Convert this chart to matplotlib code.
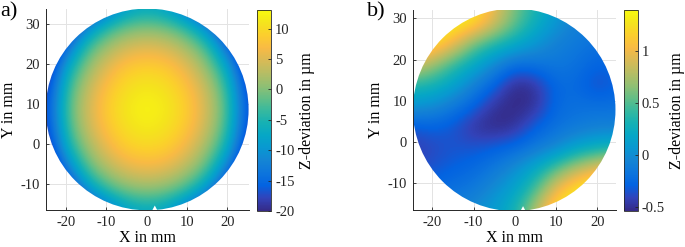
import numpy as np
import matplotlib
matplotlib.use("Agg")
import matplotlib.pyplot as plt
from matplotlib.colors import LinearSegmentedColormap
from matplotlib.patches import Circle, Polygon
from matplotlib.ticker import FormatStrFormatter

plt.rcParams['font.family'] = ['Liberation Serif', 'DejaVu Serif']
plt.rcParams['axes.unicode_minus'] = False

# grid nodes (mm) the surface values were read at
x_nodes = [-25, -20, -15, -10, -5, 0, 5, 10, 15, 20, 25]
y_nodes = [-16.5, -11.5, -6.5, -1.5, 3.5, 8.5, 13.5, 18.5, 23.5, 28.5, 33.5]

# a) Z-deviation in um, rows follow y_nodes (bottom -> top)
z_a = [
    [-39.3, -30.5, -21.8, -14.4, -8.7, -7.2, -8.7, -14.4, -21.8, -30.5, -39.3],
    [-32.7, -22.1, -10.1, -3.5, -0.4, 0.6, -0.4, -3.5, -10.1, -22.1, -32.7],
    [-26.5, -13.7, -2.7, 2.0, 5.0, 5.9, 5.0, 2.0, -2.7, -13.7, -26.5],
    [-22.5, -7.0, 0.8, 5.8, 8.8, 9.5, 8.8, 5.8, 0.8, -7.0, -22.0],
    [-20.0, -3.9, 3.4, 8.0, 10.6, 11.6, 10.6, 8.0, 3.4, -3.9, -19.5],
    [-19.0, -2.8, 4.2, 8.9, 11.5, 12.7, 11.5, 8.9, 4.2, -2.8, -18.5],
    [-20.0, -3.9, 3.4, 8.0, 10.6, 11.6, 10.6, 8.0, 3.4, -3.9, -19.5],
    [-22.5, -7.0, 0.8, 5.8, 8.8, 9.5, 8.8, 5.8, 0.8, -7.0, -22.0],
    [-26.5, -13.7, -2.7, 2.0, 5.0, 5.9, 5.0, 2.0, -2.7, -13.7, -26.5],
    [-32.7, -22.1, -10.1, -3.5, -0.4, 0.6, -0.4, -3.5, -10.1, -22.1, -32.7],
    [-39.3, -30.5, -21.8, -14.4, -8.7, -7.2, -8.7, -14.4, -21.8, -30.5, -39.3],
]

# b) Z-deviation in um after correction
z_b = [
    [-0.20, -0.15, -0.10, 0.00, 0.10, 0.30, 0.80, 1.30, 1.40, 1.40, 1.40],
    [-0.30, -0.25, -0.20, -0.15, 0.00, 0.15, 0.45, 1.00, 1.30, 1.40, 1.40],
    [-0.40, -0.35, -0.30, -0.25, -0.15, 0.00, 0.20, 0.50, 0.80, 1.00, 1.20],
    [-0.45, -0.40, -0.35, -0.35, -0.30, -0.25, -0.15, -0.05, 0.15, 0.25, 0.30],
    [-0.35, -0.30, -0.35, -0.50, -0.55, -0.50, -0.30, -0.20, -0.15, -0.10, -0.10],
    [0.05, 0.00, -0.15, -0.30, -0.50, -0.55, -0.50, -0.25, -0.20, -0.20, -0.20],
    [0.35, 0.30, 0.15, -0.10, -0.30, -0.55, -0.50, -0.25, -0.25, -0.40, -0.30],
    [0.90, 0.70, 0.40, 0.20, -0.05, -0.25, -0.20, -0.15, -0.20, -0.30, -0.25],
    [1.40, 1.25, 1.00, 0.55, 0.35, 0.20, 0.05, -0.10, -0.15, -0.20, -0.25],
    [1.40, 1.40, 1.35, 1.25, 0.90, 0.55, 0.25, 0.05, -0.10, -0.15, -0.20],
    [1.40, 1.40, 1.40, 1.30, 1.00, 0.60, 0.35, 0.10, -0.05, -0.20, -0.30],
]

clim_a = (-20, 13.1)
clim_b = (-0.54, 1.40)
ticks_a = [-20, -15, -10, -5, 0, 5, 10]
ticks_b = [-0.5, 0, 0.5, 1]
xticks = [-20, -10, 0, 10, 20]
yticks = [-10, 0, 10, 20, 30]

# parula-like colormap
parula = LinearSegmentedColormap.from_list('parula', [
    (0.208, 0.166, 0.529), (0.196, 0.264, 0.728), (0.012, 0.388, 0.882),
    (0.050, 0.459, 0.864), (0.079, 0.520, 0.831), (0.034, 0.597, 0.820),
    (0.023, 0.653, 0.777), (0.084, 0.693, 0.706), (0.218, 0.725, 0.619),
    (0.395, 0.746, 0.524), (0.571, 0.749, 0.449), (0.718, 0.741, 0.390),
    (0.851, 0.730, 0.336), (0.974, 0.731, 0.267), (0.988, 0.807, 0.179),
    (0.959, 0.895, 0.113), (0.976, 0.983, 0.054)])

fig = plt.figure(figsize=(6.85, 2.47), dpi=100)

def panel(ax_rect, cax_rect, z, clim, cticks, xlim, ylim, center, radius, label, lab_xy):
    ax = fig.add_axes(ax_rect)
    dx = (x_nodes[1] - x_nodes[0]) / 2
    dy = (y_nodes[1] - y_nodes[0]) / 2
    ext = (x_nodes[0] - dx, x_nodes[-1] + dx, y_nodes[0] - dy, y_nodes[-1] + dy)
    im = ax.imshow(np.array(z), origin='lower', extent=ext, cmap=parula,
                   vmin=clim[0], vmax=clim[1], interpolation='bicubic',
                   aspect='auto', zorder=1)
    circ = Circle(center, radius, transform=ax.transData)
    im.set_clip_path(circ)
    # small notch at the bottom of the wafer
    nx = 2.0
    yb = center[1] - radius
    ax.add_patch(Polygon([(nx - 0.8, yb - 0.3), (nx, yb + 1.2), (nx + 0.8, yb - 0.3)],
                         closed=True, facecolor='white', edgecolor='none', zorder=2))
    ax.set_xlim(*xlim)
    ax.set_ylim(*ylim)
    ax.set_xticks(xticks)
    ax.set_yticks(yticks)
    ax.grid(True, color='#e3e3e3', linewidth=0.7, zorder=0)
    ax.set_axisbelow(True)
    for s in ['top', 'right']:
        ax.spines[s].set_visible(False)
    for s in ['left', 'bottom']:
        ax.spines[s].set_color('#262626')
        ax.spines[s].set_linewidth(0.7)
    ax.tick_params(direction='in', length=2.5, width=0.6, labelsize=10.5,
                   colors='#262626', pad=4)
    ax.set_xlabel('X in mm', fontsize=11.5, labelpad=1)
    ax.set_ylabel('Y in mm', fontsize=11.5, labelpad=3)
    cax = fig.add_axes(cax_rect)
    cb = fig.colorbar(im, cax=cax, ticks=cticks, format=FormatStrFormatter('%g'))
    cb.outline.set_linewidth(0.6)
    cb.outline.set_edgecolor('#262626')
    cax.tick_params(direction='in', length=2.5, width=0.6, labelsize=10.5,
                    colors='#262626', pad=3)
    cb.set_label('Z-deviation in \u00b5m', fontsize=11.5, labelpad=3)
    fig.text(lab_xy[0], lab_xy[1], label, fontsize=16, ha='left', va='top')
    return ax

panel([0.0667, 0.150, 0.2968, 0.8138], [0.375, 0.146, 0.0204, 0.814],
      z_a, clim_a, ticks_a, (-25.1, 25.4), (-16.5, 33.7), (0.1, 8.6), 25.2,
      'a)', (0.0, 0.99))
panel([0.6025, 0.1486, 0.2963, 0.8104], [0.9105, 0.147, 0.0204, 0.813],
      z_b, clim_b, ticks_b, (-24.8, 24.5), (-16.6, 32.0), (-0.15, 7.8), 24.6,
      'b)', (0.536, 0.99))

fig.savefig('out.png', dpi=100)
